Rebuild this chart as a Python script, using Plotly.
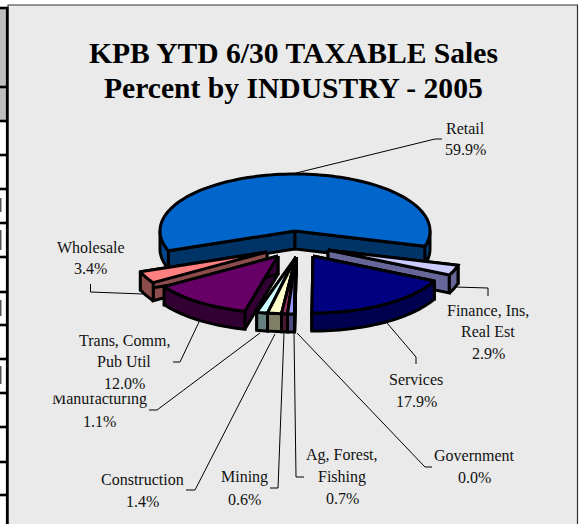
import math
import plotly.graph_objects as go

# ---- data ----
industries = ["Retail", "Finance, Ins,<br>Real Est", "Services", "Government",
              "Ag, Forest,<br>Fishing", "Mining", "Construction", "Manufacturing",
              "Trans, Comm,<br>Pub Util", "Wholesale"]
percents = [59.9, 2.9, 17.9, 0.0, 0.7, 0.6, 1.4, 1.1, 12.0, 3.4]
title_lines = ["KPB YTD 6/30 TAXABLE Sales", "Percent by INDUSTRY - 2005"]

# ---- geometry and styling (pixels of the 587x524 page) ----
W, H = 587, 524
START = -110.3
RX, RY, DEPTH = 135, 57, 18
apex = [(295, 231), (328, 250), (313, 256), (296, 257), (296, 257),
        (296, 257), (296, 257), (296, 257), (278, 256), (267, 252)]
radius_x = [RX, RX, RX, 160, 160, 160, 160, 160, RX, RX]
top_col = ["#0066CC", "#CCCCFF", "#000080", "#C0C0C0", "#9999FF",
           "#993366", "#FFFFCC", "#CCFFFF", "#660066", "#FF8080"]
wall_col = ["#003366", "#666699", "#000050", "#606060", "#4C4C80",
            "#4C1933", "#808066", "#668080", "#330033", "#8C4C4C"]
arc_col = ["#00478F", "#666699", "#000050", "#606060", "#4C4C80",
           "#4C1933", "#808066", "#668080", "#330033", "#8C4C4C"]
draw_order = [0, 9, 1, 8, 2, 7, 6, 5, 4, 3]
LW = 3

label_pos = {
    0: (465, [128, 149]), 1: (488, [310, 331.5, 353]), 2: (416, [379, 401]),
    3: (474, [455, 477]), 4: (342, [455, 477, 498]), 5: (244, [477, 499]),
    6: (142, [479, 501]), 7: (99, [399, 421]), 8: (124, [340, 361.5, 383]),
    9: (90.5, [247, 268]),
}
leaders = [
    [(292, 174), (435, 139), (442, 139)],
    [(455, 287), (488, 288), (488, 296)],
    [(387, 323), (416, 357), (416, 364)],
    [(297, 333), (425, 467), (432, 467)],
    [(294, 332), (296, 477), (304, 477)],
    [(284, 333), (278, 488), (270, 488)],
    [(275, 334), (195, 490), (186, 490)],
    [(260, 333), (157, 410), (149, 410)],
    [(199, 322), (180, 362), (173, 362)],
    [(143, 294), (90.5, 292), (90.5, 284)],
]
row_lines = [8, 87, 121, 155, 189, 223, 257, 292, 325, 359, 393, 427, 462, 495]
# clipped remains of a neighbouring table column at the left page edge
edge_marks = [(198, 212), (230, 250), (300, 316), (366, 384)]

# ---- slice angles come from the percentages ----
total = sum(percents)
angles = []
a = START
for p in percents:
    b = a + p / total * 360
    angles.append((a, b))
    a = b


def point(i, deg, dz=0.0):
    t = math.radians(deg)
    return (apex[i][0] + radius_x[i] * math.sin(t),
            apex[i][1] - RY * math.cos(t) + dz)


def arc(i, a0, a1, dz=0.0):
    n = max(2, int(abs(a1 - a0) / 2) + 2)
    return [point(i, a0 + (a1 - a0) * k / (n - 1), dz) for k in range(n)]


def polygon(fig, pts, fill):
    xs = [p[0] for p in pts] + [pts[0][0]]
    ys = [p[1] for p in pts] + [pts[0][1]]
    fig.add_trace(go.Scatter(x=xs, y=ys, mode="lines", fill="toself", fillcolor=fill,
                             line=dict(color="black", width=LW, simplify=False),
                             hoverinfo="skip", showlegend=False))


fig = go.Figure()

for pts in leaders:
    fig.add_trace(go.Scatter(x=[p[0] for p in pts], y=[p[1] for p in pts], mode="lines",
                             line=dict(color="black", width=1),
                             hoverinfo="skip", showlegend=False))

for i in draw_order:
    a0, a1 = angles[i]
    ax, ay = apex[i]
    for edge in (a0, a1):
        e = point(i, edge)
        polygon(fig, [(ax, ay), e, (e[0], e[1] + DEPTH), (ax, ay + DEPTH)], wall_col[i])
    # the curved outer wall only shows along the front half of the ellipse
    if i == 0:
        front = [(a0, -90), (90, a1)]
    else:
        front = [(max(a0, 90), min(a1, 270))]
    for f0, f1 in front:
        if f1 > f0:
            polygon(fig, arc(i, f0, f1) + arc(i, f1, f0, DEPTH), arc_col[i])
    polygon(fig, [(ax, ay)] + arc(i, a0, a1), top_col[i])

# ---- page furniture ----
shapes = [dict(type="rect", x0=8, x1=577.5, y0=5, y1=H + 2, fillcolor="#EAEAEA",
               line=dict(color="#303030", width=1.2), layer="below"),
          dict(type="rect", x0=0, x1=6, y0=8, y1=121, fillcolor="#BEBEBE",
               line=dict(width=0), layer="below"),
          dict(type="line", x0=7.2, x1=7.2, y0=7, y1=H, line=dict(color="black", width=2.6),
               layer="above")]
for y in row_lines:
    shapes.append(dict(type="line", x0=0, x1=7, y0=y, y1=y,
                       line=dict(color="black", width=2.6), layer="above"))
for y0, y1 in edge_marks:
    shapes.append(dict(type="rect", x0=0, x1=1.5, y0=y0, y1=y1, fillcolor="#555555",
                       line=dict(width=0), layer="below"))

FONT = "Liberation Serif"
annotations = []
for line, y in zip(title_lines, [53, 88]):
    annotations.append(dict(x=293.5, y=y, text="<b>%s</b>" % line, showarrow=False,
                            xanchor="center", yanchor="middle",
                            font=dict(family=FONT, size=29.6, color="black")))

mask = dict(x=99, y=393.2, text=" ", showarrow=False, width=100, height=4, bgcolor="#EAEAEA",
            borderpad=0, xanchor="center", yanchor="middle", font=dict(size=2))
for i in [7, 0, 1, 2, 3, 4, 5, 6, 9, 8]:
    cx, ys = label_pos[i]
    lines = industries[i].split("<br>") + ["%.1f%%" % percents[i]]
    for line, y in zip(lines, ys):
        annotations.append(dict(x=cx, y=y, text=line, showarrow=False,
                                xanchor="center", yanchor="middle",
                                font=dict(family=FONT, size=16, color="#111111")))
    if i == 7:
        annotations.append(mask)

fig.update_layout(
    width=W, height=H, margin=dict(l=0, r=0, t=0, b=0),
    paper_bgcolor="white", plot_bgcolor="rgba(0,0,0,0)", showlegend=False,
    xaxis=dict(range=[0, W], visible=False, fixedrange=True),
    yaxis=dict(range=[H, 0], visible=False, fixedrange=True),
    shapes=shapes, annotations=annotations,
)
fig.write_html("out.html", config=dict(displayModeBar=False),
               post_script="document.body.style.margin='0';"
                           "document.documentElement.style.overflow='hidden';")
